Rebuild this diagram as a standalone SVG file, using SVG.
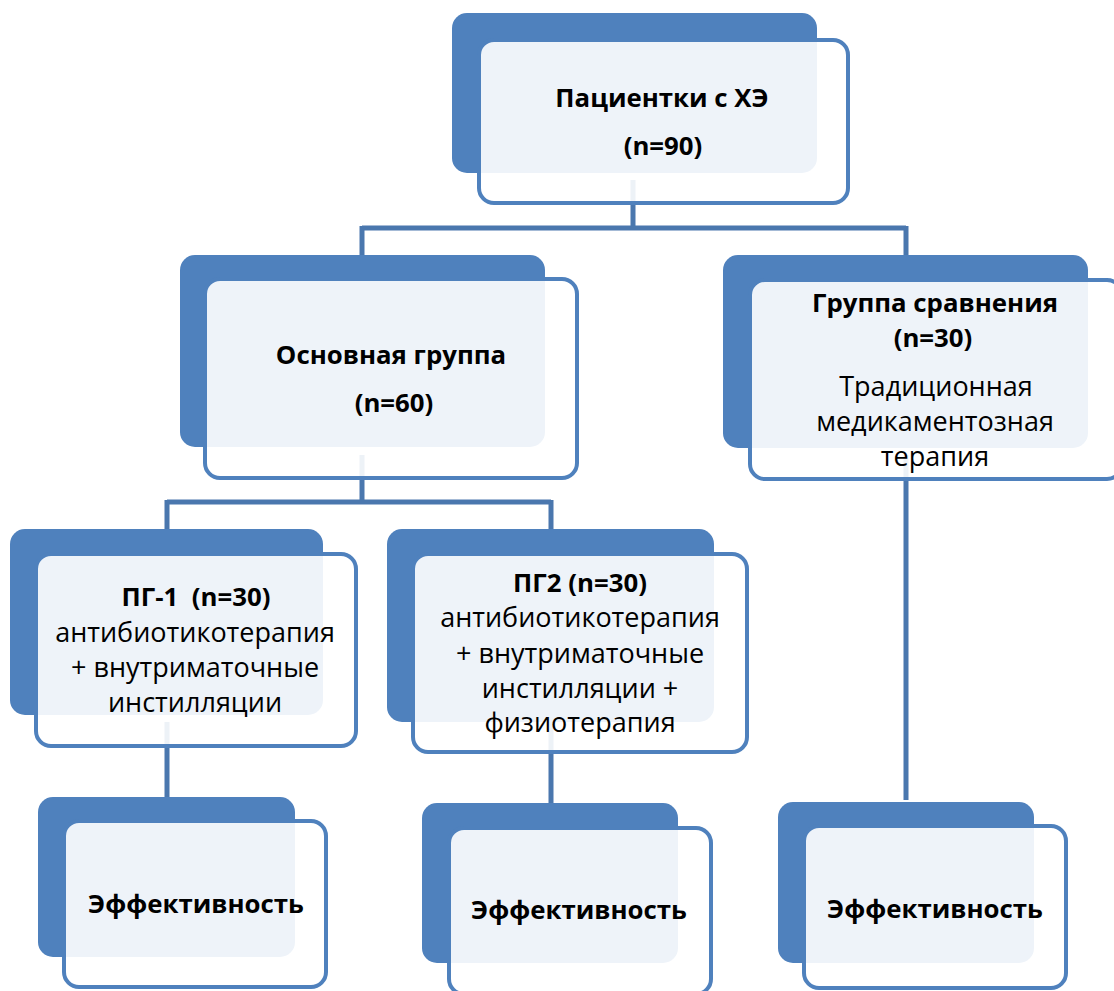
<svg xmlns="http://www.w3.org/2000/svg" width="1114" height="991" viewBox="0 0 1114 991">
<style>
.back{fill:#4F81BD}
.front{fill:#FFFFFF;fill-opacity:0.9;stroke:#4F81BD;stroke-width:4}
.conn{fill:none;stroke:#4A77AE;stroke-width:5}
text{font-family:"Open Sans","Noto Sans","DejaVu Sans",sans-serif;fill:#000;text-anchor:middle}
.b{font-weight:bold;font-size:25.8px}
.r{font-size:27px}
</style>
<rect width="1114" height="991" fill="#FFFFFF"/>
<g id="connectors">
<path class="conn" d="M633,180 V228 M362,228 H906 M362,226 V257 M906,226 V257"/>
<path class="conn" d="M362,455 V502 M167,502 H551 M167,500 V531 M551,500 V531"/>
<path class="conn" d="M167,722 V797 M551,722 V803 M906,455 V800"/>
</g>
<g id="n-patients">
<rect class="back" x="452" y="13" width="365" height="160" rx="15"/>
<rect class="front" x="479" y="40" width="369" height="163" rx="15"/>
<text class="b" x="662" y="107">Пациентки с ХЭ</text>
<text class="b" x="663" y="155">(n=90)</text>
</g>
<g id="n-main">
<rect class="back" x="180" y="255" width="365" height="192" rx="15"/>
<rect class="front" x="205" y="279" width="372" height="199" rx="15"/>
<text class="b" x="391" y="364">Основная группа</text>
<text class="b" x="394" y="412">(n=60)</text>
</g>
<g id="n-compare">
<rect class="back" x="723" y="255" width="365" height="193" rx="15"/>
<rect class="front" x="750" y="280" width="372" height="199" rx="15"/>
<text class="b" x="935" y="312">Группа сравнения</text>
<text class="b" x="933" y="347">(n=30)</text>
<text class="r" x="936" y="396">Традиционная</text>
<text class="r" x="935" y="431">медикаментозная</text>
<text class="r" x="935" y="466">терапия</text>
</g>
<g id="n-pg1">
<rect class="back" x="10" y="529" width="313" height="186" rx="15"/>
<rect class="front" x="36" y="554" width="320" height="192" rx="15"/>
<text class="b" x="196" y="606" xml:space="preserve">ПГ-1  (n=30)</text>
<text class="r" x="195" y="642">антибиотикотерапия</text>
<text class="r" x="195" y="677">+ внутриматочные</text>
<text class="r" x="195" y="712">инстилляции</text>
</g>
<g id="n-pg2">
<rect class="back" x="387" y="529" width="327" height="193" rx="15"/>
<rect class="front" x="413" y="554" width="334" height="198" rx="15"/>
<text class="b" x="580" y="592">ПГ2 (n=30)</text>
<text class="r" x="580" y="627">антибиотикотерапия</text>
<text class="r" x="580" y="663">+ внутриматочные</text>
<text class="r" x="580" y="698">инстилляции +</text>
<text class="r" x="580" y="732">физиотерапия</text>
</g>
<g id="n-eff1">
<rect class="back" x="38" y="797" width="257" height="160" rx="15"/>
<rect class="front" x="64" y="821" width="262" height="166" rx="15"/>
<text class="b" x="196" y="913">Эффективность</text>
</g>
<g id="n-eff2">
<rect class="back" x="422" y="803" width="256" height="160" rx="15"/>
<rect class="front" x="449" y="828" width="262" height="166" rx="15"/>
<text class="b" x="579" y="919">Эффективность</text>
</g>
<g id="n-eff3">
<rect class="back" x="778" y="802" width="256" height="161" rx="15"/>
<rect class="front" x="804" y="826" width="262" height="162" rx="15"/>
<text class="b" x="935" y="918">Эффективность</text>
</g>
</svg>
